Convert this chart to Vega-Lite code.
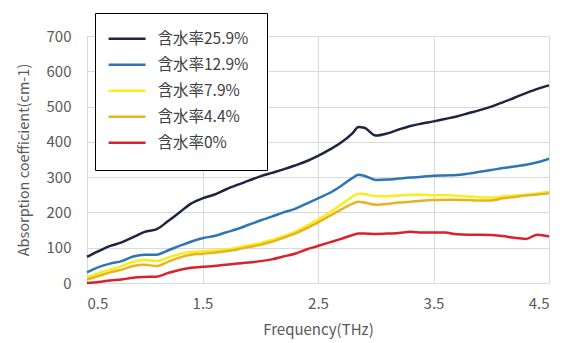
{
  "$schema": "https://vega.github.io/schema/vega-lite/v6.json",
  "width": 462,
  "height": 247,
  "autosize": "none",
  "padding": {"left": 87, "top": 36, "right": 19, "bottom": 60},
  "background": "white",
  "config": {
    "view": {"stroke": null},
    "font": "Noto Sans CJK JP"
  },
  "data": {
    "values": [
      {"f":0.5,"s":"含水率25.9%","v":74},{"f":0.6,"s":"含水率25.9%","v":90},{"f":0.7,"s":"含水率25.9%","v":105},{"f":0.8,"s":"含水率25.9%","v":115},{"f":0.9,"s":"含水率25.9%","v":130},{"f":1.0,"s":"含水率25.9%","v":145},{"f":1.1,"s":"含水率25.9%","v":152},{"f":1.2,"s":"含水率25.9%","v":175},{"f":1.3,"s":"含水率25.9%","v":200},{"f":1.4,"s":"含水率25.9%","v":225},{"f":1.5,"s":"含水率25.9%","v":240},{"f":1.6,"s":"含水率25.9%","v":250},{"f":1.7,"s":"含水率25.9%","v":265},{"f":1.8,"s":"含水率25.9%","v":278},{"f":1.9,"s":"含水率25.9%","v":290},{"f":2.0,"s":"含水率25.9%","v":302},{"f":2.1,"s":"含水率25.9%","v":312},{"f":2.2,"s":"含水率25.9%","v":322},{"f":2.3,"s":"含水率25.9%","v":333},{"f":2.4,"s":"含水率25.9%","v":345},{"f":2.5,"s":"含水率25.9%","v":360},{"f":2.6,"s":"含水率25.9%","v":378},{"f":2.7,"s":"含水率25.9%","v":398},{"f":2.8,"s":"含水率25.9%","v":425},{"f":2.85,"s":"含水率25.9%","v":442},{"f":2.9,"s":"含水率25.9%","v":440},{"f":3.0,"s":"含水率25.9%","v":418},{"f":3.1,"s":"含水率25.9%","v":424},{"f":3.2,"s":"含水率25.9%","v":435},{"f":3.3,"s":"含水率25.9%","v":445},{"f":3.4,"s":"含水率25.9%","v":452},{"f":3.5,"s":"含水率25.9%","v":458},{"f":3.6,"s":"含水率25.9%","v":465},{"f":3.7,"s":"含水率25.9%","v":472},{"f":3.8,"s":"含水率25.9%","v":481},{"f":3.9,"s":"含水率25.9%","v":490},{"f":4.0,"s":"含水率25.9%","v":500},{"f":4.1,"s":"含水率25.9%","v":512},{"f":4.2,"s":"含水率25.9%","v":525},{"f":4.3,"s":"含水率25.9%","v":538},{"f":4.4,"s":"含水率25.9%","v":550},{"f":4.5,"s":"含水率25.9%","v":560},
      {"f":0.5,"s":"含水率12.9%","v":30},{"f":0.6,"s":"含水率12.9%","v":45},{"f":0.7,"s":"含水率12.9%","v":55},{"f":0.8,"s":"含水率12.9%","v":62},{"f":0.9,"s":"含水率12.9%","v":75},{"f":1.0,"s":"含水率12.9%","v":80},{"f":1.1,"s":"含水率12.9%","v":80},{"f":1.2,"s":"含水率12.9%","v":92},{"f":1.3,"s":"含水率12.9%","v":105},{"f":1.4,"s":"含水率12.9%","v":117},{"f":1.5,"s":"含水率12.9%","v":127},{"f":1.6,"s":"含水率12.9%","v":133},{"f":1.7,"s":"含水率12.9%","v":143},{"f":1.8,"s":"含水率12.9%","v":153},{"f":1.9,"s":"含水率12.9%","v":165},{"f":2.0,"s":"含水率12.9%","v":177},{"f":2.1,"s":"含水率12.9%","v":188},{"f":2.2,"s":"含水率12.9%","v":200},{"f":2.3,"s":"含水率12.9%","v":210},{"f":2.4,"s":"含水率12.9%","v":225},{"f":2.5,"s":"含水率12.9%","v":240},{"f":2.6,"s":"含水率12.9%","v":255},{"f":2.7,"s":"含水率12.9%","v":275},{"f":2.8,"s":"含水率12.9%","v":298},{"f":2.85,"s":"含水率12.9%","v":307},{"f":2.9,"s":"含水率12.9%","v":304},{"f":3.0,"s":"含水率12.9%","v":292},{"f":3.1,"s":"含水率12.9%","v":293},{"f":3.2,"s":"含水率12.9%","v":296},{"f":3.3,"s":"含水率12.9%","v":299},{"f":3.4,"s":"含水率12.9%","v":301},{"f":3.5,"s":"含水率12.9%","v":304},{"f":3.6,"s":"含水率12.9%","v":305},{"f":3.7,"s":"含水率12.9%","v":306},{"f":3.8,"s":"含水率12.9%","v":310},{"f":3.9,"s":"含水率12.9%","v":315},{"f":4.0,"s":"含水率12.9%","v":320},{"f":4.1,"s":"含水率12.9%","v":326},{"f":4.2,"s":"含水率12.9%","v":330},{"f":4.3,"s":"含水率12.9%","v":335},{"f":4.4,"s":"含水率12.9%","v":342},{"f":4.5,"s":"含水率12.9%","v":352},
      {"f":0.5,"s":"含水率7.9%","v":15},{"f":0.6,"s":"含水率7.9%","v":28},{"f":0.7,"s":"含水率7.9%","v":38},{"f":0.8,"s":"含水率7.9%","v":48},{"f":0.9,"s":"含水率7.9%","v":60},{"f":1.0,"s":"含水率7.9%","v":65},{"f":1.1,"s":"含水率7.9%","v":62},{"f":1.2,"s":"含水率7.9%","v":72},{"f":1.3,"s":"含水率7.9%","v":82},{"f":1.4,"s":"含水率7.9%","v":88},{"f":1.5,"s":"含水率7.9%","v":90},{"f":1.6,"s":"含水率7.9%","v":92},{"f":1.7,"s":"含水率7.9%","v":95},{"f":1.8,"s":"含水率7.9%","v":100},{"f":1.9,"s":"含水率7.9%","v":107},{"f":2.0,"s":"含水率7.9%","v":113},{"f":2.1,"s":"含水率7.9%","v":122},{"f":2.2,"s":"含水率7.9%","v":133},{"f":2.3,"s":"含水率7.9%","v":145},{"f":2.4,"s":"含水率7.9%","v":162},{"f":2.5,"s":"含水率7.9%","v":180},{"f":2.6,"s":"含水率7.9%","v":200},{"f":2.7,"s":"含水率7.9%","v":222},{"f":2.8,"s":"含水率7.9%","v":245},{"f":2.85,"s":"含水率7.9%","v":253},{"f":2.9,"s":"含水率7.9%","v":252},{"f":3.0,"s":"含水率7.9%","v":246},{"f":3.1,"s":"含水率7.9%","v":246},{"f":3.2,"s":"含水率7.9%","v":248},{"f":3.3,"s":"含水率7.9%","v":250},{"f":3.4,"s":"含水率7.9%","v":250},{"f":3.5,"s":"含水率7.9%","v":249},{"f":3.6,"s":"含水率7.9%","v":249},{"f":3.7,"s":"含水率7.9%","v":247},{"f":3.8,"s":"含水率7.9%","v":245},{"f":3.9,"s":"含水率7.9%","v":243},{"f":4.0,"s":"含水率7.9%","v":242},{"f":4.1,"s":"含水率7.9%","v":245},{"f":4.2,"s":"含水率7.9%","v":248},{"f":4.3,"s":"含水率7.9%","v":250},{"f":4.4,"s":"含水率7.9%","v":254},{"f":4.5,"s":"含水率7.9%","v":258},
      {"f":0.5,"s":"含水率4.4%","v":10},{"f":0.6,"s":"含水率4.4%","v":20},{"f":0.7,"s":"含水率4.4%","v":30},{"f":0.8,"s":"含水率4.4%","v":38},{"f":0.9,"s":"含水率4.4%","v":48},{"f":1.0,"s":"含水率4.4%","v":52},{"f":1.1,"s":"含水率4.4%","v":48},{"f":1.2,"s":"含水率4.4%","v":60},{"f":1.3,"s":"含水率4.4%","v":72},{"f":1.4,"s":"含水率4.4%","v":80},{"f":1.5,"s":"含水率4.4%","v":83},{"f":1.6,"s":"含水率4.4%","v":86},{"f":1.7,"s":"含水率4.4%","v":90},{"f":1.8,"s":"含水率4.4%","v":95},{"f":1.9,"s":"含水率4.4%","v":102},{"f":2.0,"s":"含水率4.4%","v":108},{"f":2.1,"s":"含水率4.4%","v":117},{"f":2.2,"s":"含水率4.4%","v":128},{"f":2.3,"s":"含水率4.4%","v":140},{"f":2.4,"s":"含水率4.4%","v":155},{"f":2.5,"s":"含水率4.4%","v":172},{"f":2.6,"s":"含水率4.4%","v":190},{"f":2.7,"s":"含水率4.4%","v":208},{"f":2.8,"s":"含水率4.4%","v":225},{"f":2.85,"s":"含水率4.4%","v":230},{"f":2.9,"s":"含水率4.4%","v":228},{"f":3.0,"s":"含水率4.4%","v":222},{"f":3.1,"s":"含水率4.4%","v":224},{"f":3.2,"s":"含水率4.4%","v":228},{"f":3.3,"s":"含水率4.4%","v":230},{"f":3.4,"s":"含水率4.4%","v":233},{"f":3.5,"s":"含水率4.4%","v":235},{"f":3.6,"s":"含水率4.4%","v":236},{"f":3.7,"s":"含水率4.4%","v":236},{"f":3.8,"s":"含水率4.4%","v":235},{"f":3.9,"s":"含水率4.4%","v":234},{"f":4.0,"s":"含水率4.4%","v":234},{"f":4.1,"s":"含水率4.4%","v":240},{"f":4.2,"s":"含水率4.4%","v":244},{"f":4.3,"s":"含水率4.4%","v":248},{"f":4.4,"s":"含水率4.4%","v":251},{"f":4.5,"s":"含水率4.4%","v":254},
      {"f":0.5,"s":"含水率0%","v":0},{"f":0.6,"s":"含水率0%","v":3},{"f":0.7,"s":"含水率0%","v":7},{"f":0.8,"s":"含水率0%","v":10},{"f":0.9,"s":"含水率0%","v":15},{"f":1.0,"s":"含水率0%","v":17},{"f":1.1,"s":"含水率0%","v":18},{"f":1.2,"s":"含水率0%","v":28},{"f":1.3,"s":"含水率0%","v":37},{"f":1.4,"s":"含水率0%","v":43},{"f":1.5,"s":"含水率0%","v":46},{"f":1.6,"s":"含水率0%","v":48},{"f":1.7,"s":"含水率0%","v":52},{"f":1.8,"s":"含水率0%","v":55},{"f":1.9,"s":"含水率0%","v":58},{"f":2.0,"s":"含水率0%","v":62},{"f":2.1,"s":"含水率0%","v":67},{"f":2.2,"s":"含水率0%","v":75},{"f":2.3,"s":"含水率0%","v":83},{"f":2.4,"s":"含水率0%","v":95},{"f":2.5,"s":"含水率0%","v":105},{"f":2.6,"s":"含水率0%","v":115},{"f":2.7,"s":"含水率0%","v":125},{"f":2.8,"s":"含水率0%","v":136},{"f":2.85,"s":"含水率0%","v":140},{"f":2.9,"s":"含水率0%","v":140},{"f":3.0,"s":"含水率0%","v":139},{"f":3.1,"s":"含水率0%","v":140},{"f":3.2,"s":"含水率0%","v":142},{"f":3.3,"s":"含水率0%","v":145},{"f":3.4,"s":"含水率0%","v":143},{"f":3.5,"s":"含水率0%","v":143},{"f":3.6,"s":"含水率0%","v":143},{"f":3.7,"s":"含水率0%","v":138},{"f":3.8,"s":"含水率0%","v":137},{"f":3.9,"s":"含水率0%","v":137},{"f":4.0,"s":"含水率0%","v":136},{"f":4.1,"s":"含水率0%","v":133},{"f":4.2,"s":"含水率0%","v":128},{"f":4.3,"s":"含水率0%","v":125},{"f":4.4,"s":"含水率0%","v":137},{"f":4.5,"s":"含水率0%","v":132}
    ]
  },
  "mark": {"type": "line", "strokeWidth": 2.5, "interpolate": "monotone"},
  "encoding": {
    "x": {
      "field": "f", "type": "quantitative",
      "scale": {"domain": [0.5, 4.5], "nice": false, "zero": false},
      "axis": {
        "title": "Frequency(THz)", "values": [0.5, 1.5, 2.5, 3.5, 4.5], "format": ".1f",
        "domain": false, "ticks": false, "grid": true, "gridColor": "#d9d9d9", "gridWidth": 1,
        "labelFontSize": 15, "labelColor": "#595959", "labelPadding": 13, "labelFont": "Noto Sans CJK JP",
        "titleFontSize": 15, "titleColor": "#595959", "titleFontWeight": "normal", "titlePadding": 11, "titleFont": "Noto Sans CJK JP"
      }
    },
    "y": {
      "field": "v", "type": "quantitative",
      "scale": {"domain": [0, 700], "nice": false},
      "axis": {
        "title": "Absorption coefficient(cm-1)", "values": [0, 100, 200, 300, 400, 500, 600, 700],
        "domain": false, "ticks": false, "grid": true, "gridColor": "#d9d9d9", "gridWidth": 1,
        "labelFontSize": 15, "labelColor": "#595959", "labelPadding": 16, "labelFont": "Noto Sans CJK JP",
        "titleFontSize": 14.5, "titleColor": "#595959", "titleFontWeight": "normal", "titlePadding": 15, "titleFont": "Noto Sans CJK JP"
      }
    },
    "color": {
      "field": "s", "type": "nominal",
      "scale": {
        "domain": ["含水率25.9%", "含水率12.9%", "含水率7.9%", "含水率4.4%", "含水率0%"],
        "range": ["#1c2541", "#2e75b6", "#f5ef1a", "#e8b323", "#d8222e"]
      },
      "legend": {
        "title": null, "orient": "none", "legendX": 8, "legendY": -23,
        "symbolType": "M-1,0H5", "symbolSize": 152, "symbolStrokeWidth": 2.5, "symbolFillColor": "transparent",
        "symbolOffset": -6,
        "labelFontSize": 15.5, "labelColor": "#404040", "labelOffset": 35, "labelFont": "Noto Sans CJK JP",
        "strokeColor": "#000000", "fillColor": "#ffffff",
        "padding": 18, "rowPadding": 9
      }
    }
  }
}
